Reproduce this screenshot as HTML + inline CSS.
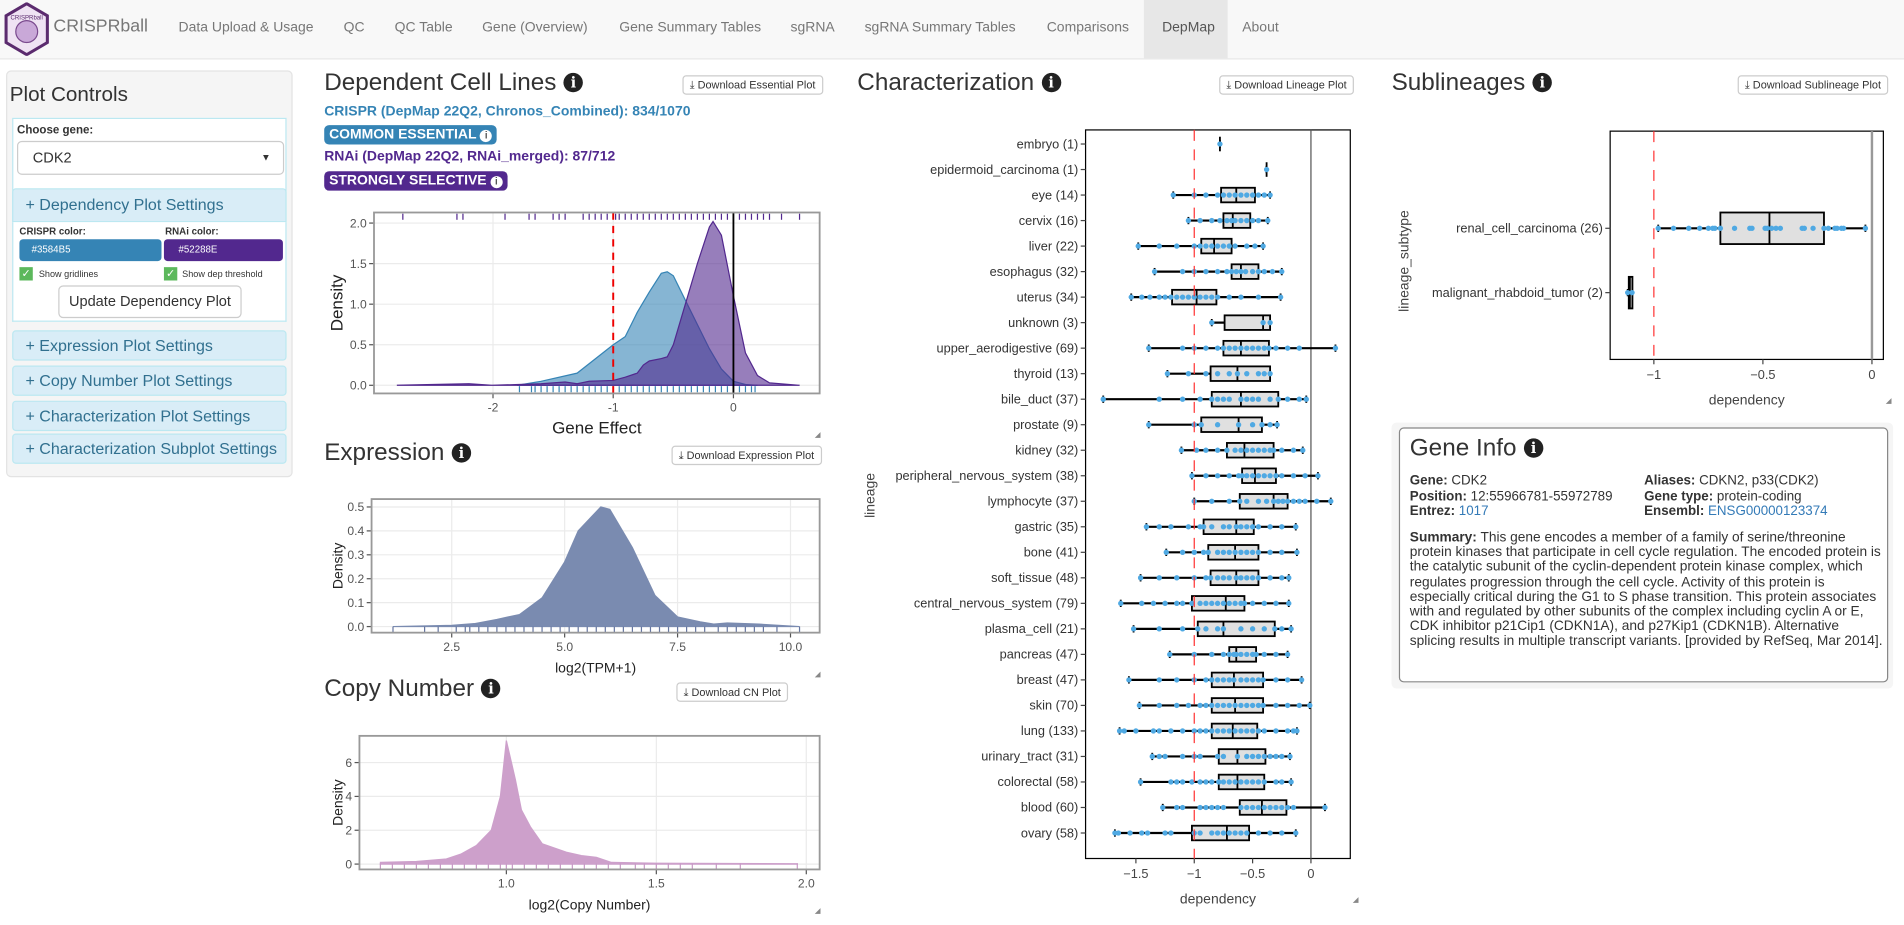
<!DOCTYPE html>
<html><head><meta charset="utf-8">
<style>
html,body{margin:0;padding:0;width:1904px;height:925px;overflow:hidden;background:#fff;font-family:"Liberation Sans",Arial,sans-serif;color:#333}
#root{position:absolute;left:0;top:0;width:1568px;height:762px;transform:scale(1.21429);transform-origin:0 0}
.abs{position:absolute}
.nav{left:0;top:0;width:1568px;height:48px;background:#f8f8f8;border-bottom:1px solid #e7e7e7}
.navi{position:absolute;top:17px;font-size:11.5px;color:#777;white-space:nowrap}
.h{font-size:20px;color:#333;white-space:nowrap}
.ic{display:inline-block;width:16px;height:16px;border-radius:50%;background:#222;color:#fff;font-size:12px;font-weight:bold;text-align:center;line-height:16px;font-family:"DejaVu Serif",serif;vertical-align:2px;margin-left:6px}
.btn{position:absolute;height:14px;border:1px solid #ccc;border-radius:3px;background:#fff;font-size:9px;line-height:14px;padding:0 5px;color:#333;white-space:nowrap;box-sizing:content-box}
.pnl{position:absolute;left:10px;width:226px;background:#d9edf7;border:1px solid #bce8f1;border-radius:3px;color:#31708f;font-size:13.2px;box-sizing:border-box;padding-left:10px;line-height:24px;white-space:nowrap;overflow:hidden}
.badge{position:absolute;color:#fff;font-weight:bold;font-size:11.5px;border-radius:4px;padding:0 4px;line-height:16px;white-space:nowrap}
.bi{display:inline-block;width:10px;height:10px;border-radius:50%;background:#fff;color:#555;font-size:8px;line-height:10px;text-align:center;vertical-align:0px;margin-left:3px}
svg text{font-family:"Liberation Sans",Arial,sans-serif}
</style></head><body>
<div id="root">
<div class="abs nav">
  <svg class="abs" style="left:3px;top:2px" width="38" height="44"><polygon points="19,1 36,11 36,33 19,43 2,33 2,11" fill="#efe3f3" stroke="#5b2b6e" stroke-width="2.5"/><circle cx="19" cy="24" r="9" fill="#c9a8d8" stroke="#7a4a8e"/><text x="19" y="14" font-size="5" text-anchor="middle" fill="#5b2b6e">CRISPRball</text></svg>
  <div class="navi" style="left:44px;top:14px;font-size:14.6px">CRISPRball</div>
  <div class="navi" style="left:147px">Data Upload &amp; Usage</div>
  <div class="navi" style="left:283px">QC</div>
  <div class="navi" style="left:325px">QC Table</div>
  <div class="navi" style="left:397px">Gene (Overview)</div>
  <div class="navi" style="left:510px">Gene Summary Tables</div>
  <div class="navi" style="left:651px">sgRNA</div>
  <div class="navi" style="left:712px">sgRNA Summary Tables</div>
  <div class="navi" style="left:862px">Comparisons</div>
  <div class="abs" style="left:942px;top:0;width:69px;height:48px;background:#e7e7e7"></div>
  <div class="navi" style="left:957px;color:#555">DepMap</div>
  <div class="navi" style="left:1023px">About</div>
</div>

<!-- sidebar -->
<div class="abs" style="left:5px;top:58px;width:236px;height:335px;background:#f5f5f5;border:1px solid #e3e3e3;border-radius:4px;box-sizing:border-box"></div>
<div class="abs" style="left:8px;top:68px;font-size:17px">Plot Controls</div>
<div class="abs" style="left:10px;top:97px;width:226px;height:89px;background:#fff;border:1px solid #bce8f1;box-sizing:border-box"></div>
<div class="abs" style="left:14px;top:102px;font-size:9.5px;font-weight:bold">Choose gene:</div>
<div class="abs" style="left:14px;top:116px;width:220px;height:28px;border:1px solid #ccc;border-radius:4px;background:#fff;box-sizing:border-box;font-size:12px;line-height:26px;padding-left:12px">CDK2<span style="position:absolute;right:10px;top:0;font-size:8px">&#9660;</span></div>
<div class="pnl" style="top:155px;height:28px;line-height:26px;border-radius:3px 3px 0 0">+ Dependency Plot Settings</div>
<div class="abs" style="left:10px;top:183px;width:226px;height:82px;background:#fff;border:1px solid #bce8f1;border-top:none;box-sizing:border-box"></div>
<div class="abs" style="left:16px;top:186px;font-size:8px;font-weight:bold">CRISPR color:</div>
<div class="abs" style="left:136px;top:186px;font-size:8px;font-weight:bold">RNAi color:</div>
<div class="abs" style="left:16px;top:197px;width:117px;height:18px;background:#3584B5;border-radius:3px;color:#fff;font-size:8px;line-height:18px;padding-left:10px;box-sizing:border-box">#3584B5</div>
<div class="abs" style="left:135px;top:197px;width:98px;height:18px;background:#52288E;border-radius:3px;color:#fff;font-size:8px;line-height:18px;padding-left:12px;box-sizing:border-box">#52288E</div>
<div class="abs" style="left:16px;top:220px;width:11px;height:11px;background:#5cb85c;color:#fff;font-size:9px;line-height:11px;text-align:center">&#10003;</div>
<div class="abs" style="left:32px;top:221px;font-size:7.5px">Show gridlines</div>
<div class="abs" style="left:135px;top:220px;width:11px;height:11px;background:#5cb85c;color:#fff;font-size:9px;line-height:11px;text-align:center">&#10003;</div>
<div class="abs" style="left:150px;top:221px;font-size:7.5px">Show dep threshold</div>
<div class="abs" style="left:48px;top:235px;width:151px;height:27px;border:1px solid #ccc;border-radius:4px;background:#fff;box-sizing:border-box;font-size:12px;line-height:25px;text-align:center">Update Dependency Plot</div>
<div class="pnl" style="top:272px;height:25px">+ Expression Plot Settings</div>
<div class="pnl" style="top:301px;height:25px">+ Copy Number Plot Settings</div>
<div class="pnl" style="top:330px;height:25px">+ Characterization Plot Settings</div>
<div class="pnl" style="top:357px;height:25px">+ Characterization Subplot Settings</div>

<!-- column 2 -->
<div class="abs h" style="left:267px;top:57px">Dependent Cell Lines<span class="ic">i</span></div>
<div class="btn" style="left:562px;top:62px">&#10515; Download Essential Plot</div>
<div class="abs" style="left:267px;top:86px;font-size:11.5px;font-weight:bold;color:#3584B5;white-space:nowrap">CRISPR (DepMap 22Q2, Chronos_Combined): 834/1070</div>
<div class="badge" style="left:267px;top:103px;background:#3584B5">COMMON ESSENTIAL<span class="bi">i</span></div>
<div class="abs" style="left:267px;top:123px;font-size:11.5px;font-weight:bold;color:#52288E;white-space:nowrap">RNAi (DepMap 22Q2, RNAi_merged): 87/712</div>
<div class="badge" style="left:267px;top:141px;background:#52288E">STRONGLY SELECTIVE<span class="bi">i</span></div>

<div class="abs h" style="left:267px;top:362px">Expression<span class="ic">i</span></div>
<div class="btn" style="left:553px;top:367px">&#10515; Download Expression Plot</div>
<div class="abs h" style="left:267px;top:556px">Copy Number<span class="ic">i</span></div>
<div class="btn" style="left:557px;top:562px">&#10515; Download CN Plot</div>

<!-- column 3 -->
<div class="abs h" style="left:706px;top:57px">Characterization<span class="ic">i</span></div>
<div class="btn" style="left:1004px;top:62px">&#10515; Download Lineage Plot</div>

<!-- column 4 -->
<div class="abs h" style="left:1146px;top:57px">Sublineages<span class="ic">i</span></div>
<div class="btn" style="left:1431px;top:62px">&#10515; Download Sublineage Plot</div>

<div class="abs" style="left:1146px;top:348px;width:413px;height:219px;background:#f5f5f5;border-radius:4px"></div>
<div class="abs" style="left:1152px;top:352px;width:403px;height:210px;background:#fff;border:1px solid #888;border-radius:4px;box-sizing:border-box">
  <div style="position:absolute;left:8px;top:5px;font-size:20px">Gene Info<span class="ic">i</span></div>
  <div style="position:absolute;left:8px;top:37px;font-size:11px;line-height:12.5px;white-space:nowrap"><b>Gene:</b> CDK2<br><b>Position:</b> 12:55966781-55972789<br><b>Entrez:</b> <span style="color:#337ab7">1017</span></div>
  <div style="position:absolute;left:201px;top:37px;font-size:11px;line-height:12.5px;white-space:nowrap"><b>Aliases:</b> CDKN2, p33(CDK2)<br><b>Gene type:</b> protein-coding<br><b>Ensembl:</b> <span style="color:#337ab7">ENSG00000123374</span></div>
  <div style="position:absolute;left:8px;top:84px;width:392px;font-size:11.3px;line-height:12.2px"><b>Summary:</b> This gene encodes a member of a family of serine/threonine protein kinases that participate in cell cycle regulation. The encoded protein is the catalytic subunit of the cyclin-dependent protein kinase complex, which regulates progression through the cell cycle. Activity of this protein is especially critical during the G1 to S phase transition. This protein associates with and regulated by other subunits of the complex including cyclin A or E, CDK inhibitor p21Cip1 (CDKN1A), and p27Kip1 (CDKN1B). Alternative splicing results in multiple transcript variants. [provided by RefSeq, Mar 2014].</div>
</div>

<svg id="charts" class="abs" style="left:0;top:0" width="1568" height="762"></svg>
</div>
<script>
// ---- dependency density data ----
const crisprX=[-1.8,-1.6,-1.3,-1.0,-0.9,-0.8,-0.7,-0.6,-0.55,-0.5,-0.4,-0.3,-0.2,-0.1,0,0.1,0.2];
const crisprY=[0.0,0.05,0.15,0.5,0.6,0.9,1.15,1.38,1.4,1.35,1.05,0.75,0.45,0.2,0.05,0.01,0.0];
const rnaiX=[-2.8,-2.2,-2.0,-1.6,-1.4,-1.3,-1.2,-1.0,-0.9,-0.8,-0.75,-0.7,-0.6,-0.55,-0.5,-0.4,-0.3,-0.2,-0.17,-0.1,0,0.1,0.2,0.3,0.55];
const rnaiY=[0,0.02,0.0,0.02,0.04,0.02,0.05,0.06,0.1,0.15,0.25,0.3,0.33,0.35,0.5,1.0,1.5,1.95,2.02,1.85,1.1,0.4,0.12,0.03,0.0];
const rnaiRug=[-2.75,-2.3,-2.25,-1.9,-1.7,-1.65,-1.5,-1.45,-1.4,-1.25,-1.2,-1.15,-1.1,-1.05,-0.98,-0.95,-0.9,-0.85,-0.8,-0.75,-0.7,-0.65,-0.6,-0.55,-0.5,-0.45,-0.4,-0.35,-0.3,-0.25,-0.2,-0.15,-0.1,-0.05,0,0.05,0.1,0.15,0.2,0.25,0.3,0.4,0.55];
const crisprRug=[-1.78,-1.68,-1.65,-1.6,-1.55,-1.5,-1.45,-1.4,-1.35,-1.3,-1.25,-1.2,-1.15,-1.1,-1.05,-1.0,-0.95,-0.9,-0.85,-0.8,-0.75,-0.7,-0.65,-0.6,-0.55,-0.5,-0.45,-0.4,-0.35,-0.3,-0.25,-0.2,-0.15,-0.1,-0.05,0,0.05,0.1,0.15,0.18];
const depXTicks=[-2,-1,0];
const depYTicks=[0,0.5,1,1.5,2];
// ---- expression data ----
const exprX=[1.2,2.5,3,3.5,4,4.5,5,5.3,5.6,5.8,6.0,6.5,7,7.5,8,8.3,8.6,9.3,10.2];
const exprY=[0.0,0.005,0.012,0.03,0.05,0.12,0.27,0.4,0.46,0.5,0.49,0.33,0.13,0.04,0.02,0.01,0.015,0.01,0.0];
const exprXTicks=[2.5,5.0,7.5,10.0];
const exprYTicks=[0,0.1,0.2,0.3,0.4,0.5];
const exprRug=[1.2,1.9,2.2,2.6,2.8,2.9,3.1,3.3,3.5,3.7,3.9,4.1,4.3,4.5,4.7,4.9,5.1,5.3,5.5,5.7,5.9,6.1,6.3,6.5,6.7,6.9,7.1,7.3,7.5,7.7,7.9,8.1,8.4,8.6,8.8,9.0,9.2,9.4,9.7,10.2];
// ---- copy number data ----
const cnX=[0.58,0.7,0.8,0.85,0.9,0.95,0.98,1.0,1.03,1.05,1.08,1.12,1.2,1.25,1.3,1.35,1.5,1.97];
const cnY=[0.1,0.15,0.3,0.6,1.1,2.0,4.0,7.3,5.0,3.2,2.2,1.2,0.7,0.5,0.4,0.1,0.05,0.02];
const cnXTicks=[1.0,1.5,2.0];
const cnYTicks=[0,2,4,6];
const cnRug=[0.58,0.62,0.66,0.7,0.74,0.78,0.82,0.86,0.9,0.94,0.98,1.0,1.02,1.06,1.1,1.14,1.18,1.22,1.26,1.3,1.34,1.38,1.43,1.46,1.5,1.54,1.58,1.62,1.7,1.78,1.97];
// ---- characterization data ----
const lineages=["embryo (1)","epidermoid_carcinoma (1)","eye (14)","cervix (16)","liver (22)","esophagus (32)","uterus (34)","unknown (3)","upper_aerodigestive (69)","thyroid (13)","bile_duct (37)","prostate (9)","kidney (32)","peripheral_nervous_system (38)","lymphocyte (37)","gastric (35)","bone (41)","soft_tissue (48)","central_nervous_system (79)","plasma_cell (21)","pancreas (47)","breast (47)","skin (70)","lung (133)","urinary_tract (31)","colorectal (58)","blood (60)","ovary (58)"];
const wLow=[-0.78,-0.38,-1.18,-1.05,-1.48,-1.34,-1.54,-0.85,-1.39,-1.23,-1.78,-1.39,-1.11,-1.02,-1.0,-1.41,-1.24,-1.46,-1.63,-1.52,-1.21,-1.56,-1.47,-1.64,-1.36,-1.46,-1.27,-1.68];
const q1=[-0.78,-0.38,-0.77,-0.75,-0.94,-0.68,-1.19,-0.74,-0.75,-0.86,-0.85,-0.94,-0.72,-0.59,-0.61,-0.92,-0.88,-0.86,-1.02,-0.97,-0.7,-0.85,-0.85,-0.85,-0.79,-0.79,-0.61,-1.02];
const med=[-0.78,-0.38,-0.64,-0.67,-0.83,-0.6,-0.98,-0.41,-0.6,-0.63,-0.6,-0.62,-0.57,-0.48,-0.32,-0.64,-0.65,-0.64,-0.73,-0.75,-0.64,-0.66,-0.65,-0.67,-0.63,-0.63,-0.42,-0.72];
const q3=[-0.78,-0.38,-0.48,-0.52,-0.68,-0.45,-0.81,-0.35,-0.36,-0.35,-0.28,-0.42,-0.32,-0.3,-0.2,-0.49,-0.45,-0.45,-0.57,-0.31,-0.47,-0.41,-0.41,-0.46,-0.39,-0.4,-0.21,-0.53];
const wHigh=[-0.78,-0.38,-0.35,-0.37,-0.41,-0.25,-0.26,-0.35,0.21,-0.35,-0.04,-0.29,-0.07,0.06,0.17,-0.13,-0.12,-0.19,-0.19,-0.17,-0.2,-0.08,-0.01,-0.12,-0.18,-0.17,0.12,-0.13];
const linPoints=[[-0.78],[-0.38],
[-1.18,-1.0,-0.9,-0.8,-0.75,-0.7,-0.65,-0.6,-0.55,-0.5,-0.45,-0.4,-0.35],
[-1.05,-0.95,-0.85,-0.78,-0.72,-0.68,-0.65,-0.6,-0.55,-0.5,-0.45,-0.37],
[-1.48,-1.3,-1.15,-1.0,-0.95,-0.9,-0.85,-0.8,-0.75,-0.7,-0.65,-0.55,-0.48,-0.41],
[-1.34,-1.1,-1.0,-0.9,-0.8,-0.72,-0.68,-0.64,-0.6,-0.56,-0.5,-0.45,-0.4,-0.33,-0.25],
[-1.54,-1.45,-1.38,-1.3,-1.25,-1.2,-1.15,-1.1,-1.05,-1.0,-0.95,-0.9,-0.85,-0.8,-0.7,-0.6,-0.45,-0.26],
[-0.85,-0.41,-0.35],
[-1.39,-1.1,-1.0,-0.9,-0.8,-0.75,-0.7,-0.65,-0.6,-0.55,-0.5,-0.45,-0.4,-0.36,-0.3,-0.2,-0.1,0.21],
[-1.23,-1.05,-0.9,-0.8,-0.7,-0.63,-0.55,-0.45,-0.4,-0.35],
[-1.78,-1.3,-1.1,-0.95,-0.85,-0.8,-0.75,-0.7,-0.6,-0.55,-0.5,-0.45,-0.35,-0.28,-0.2,-0.1,-0.04],
[-1.39,-1.0,-0.94,-0.8,-0.62,-0.5,-0.42,-0.35,-0.29],
[-1.11,-0.98,-0.9,-0.8,-0.72,-0.65,-0.6,-0.55,-0.5,-0.45,-0.4,-0.35,-0.32,-0.25,-0.15,-0.07],
[-1.02,-0.9,-0.8,-0.7,-0.62,-0.59,-0.55,-0.5,-0.45,-0.4,-0.35,-0.3,-0.25,-0.15,-0.05,0.06],
[-1.0,-0.85,-0.7,-0.61,-0.55,-0.45,-0.38,-0.32,-0.28,-0.24,-0.2,-0.15,-0.1,-0.05,0.05,0.17],
[-1.41,-1.3,-1.2,-1.05,-0.95,-0.92,-0.85,-0.75,-0.7,-0.64,-0.6,-0.55,-0.5,-0.45,-0.35,-0.25,-0.13],
[-1.24,-1.1,-1.0,-0.92,-0.88,-0.8,-0.75,-0.7,-0.65,-0.6,-0.55,-0.5,-0.45,-0.35,-0.25,-0.12],
[-1.46,-1.3,-1.15,-1.0,-0.9,-0.86,-0.8,-0.75,-0.7,-0.64,-0.6,-0.55,-0.5,-0.45,-0.35,-0.25,-0.19],
[-1.63,-1.45,-1.35,-1.25,-1.15,-1.1,-1.02,-0.95,-0.9,-0.85,-0.8,-0.75,-0.7,-0.65,-0.6,-0.57,-0.5,-0.4,-0.3,-0.19],
[-1.52,-1.3,-1.1,-0.97,-0.9,-0.8,-0.75,-0.6,-0.5,-0.4,-0.31,-0.25,-0.17],
[-1.21,-1.0,-0.85,-0.75,-0.7,-0.66,-0.64,-0.6,-0.55,-0.5,-0.47,-0.4,-0.3,-0.2],
[-1.56,-1.3,-1.15,-1.0,-0.9,-0.85,-0.8,-0.75,-0.7,-0.66,-0.6,-0.55,-0.5,-0.45,-0.41,-0.3,-0.2,-0.08],
[-1.47,-1.3,-1.15,-1.05,-0.95,-0.9,-0.85,-0.8,-0.75,-0.7,-0.65,-0.6,-0.55,-0.5,-0.45,-0.41,-0.3,-0.2,-0.1,-0.01],
[-1.64,-1.6,-1.5,-1.35,-1.3,-1.2,-1.1,-1.0,-0.95,-0.9,-0.85,-0.8,-0.75,-0.7,-0.65,-0.6,-0.55,-0.5,-0.45,-0.4,-0.3,-0.2,-0.15,-0.12],
[-1.36,-1.3,-1.25,-1.1,-1.0,-0.95,-0.8,-0.75,-0.63,-0.55,-0.5,-0.45,-0.4,-0.35,-0.3,-0.25,-0.18],
[-1.46,-1.2,-1.15,-1.1,-1.02,-0.95,-0.9,-0.85,-0.79,-0.75,-0.7,-0.65,-0.6,-0.55,-0.5,-0.45,-0.4,-0.3,-0.25,-0.17],
[-1.27,-1.15,-1.1,-0.95,-0.9,-0.85,-0.8,-0.75,-0.6,-0.55,-0.5,-0.45,-0.4,-0.35,-0.3,-0.25,-0.2,-0.15,0.12],
[-1.68,-1.65,-1.55,-1.45,-1.4,-1.25,-1.2,-1.0,-0.95,-0.85,-0.8,-0.75,-0.7,-0.65,-0.6,-0.55,-0.45,-0.35,-0.25,-0.13]];
const charXTicks=[-1.5,-1,-0.5,0];
const charXLabels=["\u22121.5","\u22121","\u22120.5","0"];
// ---- sublineage data ----
const subs=["renal_cell_carcinoma (26)","malignant_rhabdoid_tumor (2)"];
const subLow=[-0.98,-1.12];
const subQ1=[-0.695,-1.115];
const subMed=[-0.47,-1.11];
const subQ3=[-0.22,-1.105];
const subHigh=[-0.03,-1.1];
const subPoints=[[-0.98,-0.91,-0.84,-0.79,-0.75,-0.73,-0.72,-0.695,-0.63,-0.56,-0.55,-0.49,-0.48,-0.46,-0.44,-0.42,-0.32,-0.31,-0.27,-0.22,-0.2,-0.17,-0.16,-0.14,-0.13,-0.03],[-1.12,-1.1]];
const subXTicks=[-1,-0.5,0];
const subXLabels=["\u22121","\u22120.5","0"];

const NS="http://www.w3.org/2000/svg";
const svg=document.getElementById('charts');
function el(tag,attrs,parent){const e=document.createElementNS(NS,tag);for(const k in attrs)e.setAttribute(k,attrs[k]);(parent||svg).appendChild(e);return e;}
function txt(x,y,s,attrs,parent){const t=el('text',Object.assign({x:x,y:y},attrs||{}),parent);t.textContent=s;return t;}
function lin(d0,d1,r0,r1){return v=>r0+(v-d0)/(d1-d0)*(r1-r0);}

function densityPlot(o){
  const g=el('g',{});
  
  
  el('rect',{x:o.x0,y:o.y0,width:o.x1-o.x0,height:o.y1-o.y0,fill:'#fff'},g);
  o.yt.forEach(v=>{const y=o.sy(v);el('line',{x1:o.x0,x2:o.x1,y1:y,y2:y,stroke:'#ebebeb','stroke-width':1},g);
    el('line',{x1:o.x0-4,x2:o.x0,y1:y,y2:y,stroke:'#555'},g);
    txt(o.x0-6,y+3.5,o.yfmt(v),{'font-size':10,fill:'#555','text-anchor':'end'},g);});
  o.xt.forEach((v,i)=>{const x=o.sx(v);el('line',{x1:x,x2:x,y1:o.y0,y2:o.y1,stroke:'#ebebeb'},g);
    el('line',{x1:x,x2:x,y1:o.y1,y2:o.y1+4,stroke:'#555'},g);
    txt(x,o.y1+15,o.xlab[i],{'font-size':10,fill:'#555','text-anchor':'middle'},g);});
  o.series.forEach(s=>{
    let d='M'+o.sx(s.x[0])+','+o.sy(0);
    s.x.forEach((v,i)=>{d+=' L'+o.sx(v).toFixed(1)+','+o.sy(s.y[i]).toFixed(1);});
    d+=' L'+o.sx(s.x[s.x.length-1])+','+o.sy(0)+' Z';
    const p=el('path',{d:d,fill:s.fill,'fill-opacity':s.op,stroke:s.stroke,'stroke-width':1},g);
    
    
    s.rug.forEach(v=>{const x=o.sx(v);el('line',{x1:x,x2:x,y1:s.rugY,y2:s.rugY+5,stroke:s.rugC,'stroke-width':1},g);});
  });
  if(o.extra)o.extra(g);
  el('rect',{x:o.x0,y:o.y0,width:o.x1-o.x0,height:o.y1-o.y0,fill:'none',stroke:'#999','stroke-width':1.5},g);
  txt((o.x0+o.x1)/2,o.y1+33,o.xtitle,{'font-size':o.tfs,fill:'#222','text-anchor':'middle'},g);
  txt(0,0,'Density',{'font-size':o.tfs,fill:'#222','text-anchor':'middle',transform:'translate('+o.ytx+','+((o.y0+o.y1)/2)+') rotate(-90)'},g);
  txt(o.x1-4,o.y1+36,'\u25E2',{'font-size':6,fill:'#888'},g);
}
// dependency
(function(){
  const sx=lin(0,1,604,703), sy=lin(0,1,317.3,250.5);
  densityPlot({name:'dependency-density-plot',x0:308,x1:675,y0:175,y1:324,sx:sx,sy:sy,yt:depYTicks,xt:depXTicks,xlab:['-2','-1','0'],yfmt:v=>v.toFixed(1),xtitle:'Gene Effect',tfs:14,ytx:282,
    series:[{name:'crispr-density',x:crisprX,y:crisprY,fill:'#3584B5',op:0.6,stroke:'#3584B5',rug:crisprRug,rugY:318,rugC:'#3584B5'},
            {name:'rnai-density',x:rnaiX,y:rnaiY,fill:'#52288E',op:0.6,stroke:'#52288E',rug:rnaiRug,rugY:176,rugC:'#52288E'}],
    extra:g=>{el('line',{x1:sx(-1),x2:sx(-1),y1:175,y2:324,stroke:'#e00','stroke-width':1.6,'stroke-dasharray':'6,5'},g);
              el('line',{x1:sx(0),x2:sx(0),y1:175,y2:324,stroke:'#000','stroke-width':1.5},g);}});
})();
// expression
(function(){
  const sx=lin(0,1,279,316.2), sy=lin(0,1,516,319);
  densityPlot({name:'expression-density-plot',x0:306,x1:675,y0:411,y1:521,sx:sx,sy:sy,yt:exprYTicks,xt:exprXTicks,xlab:['2.5','5.0','7.5','10.0'],yfmt:v=>v.toFixed(1),xtitle:'log2(TPM+1)',tfs:11.5,ytx:282,
    series:[{name:'expression-density',x:exprX,y:exprY,fill:'#7A8BB0',op:1,stroke:'#7A8BB0',rug:exprRug,rugY:516,rugC:'#6676a0'}]});
})();
// copy number
(function(){
  const sx=lin(1,1.5,417,540.5), sy=lin(0,6,711.6,628);
  densityPlot({name:'copy-number-density-plot',x0:296,x1:675,y0:606,y1:716,sx:sx,sy:sy,yt:cnYTicks,xt:cnXTicks,xlab:['1.0','1.5','2.0'],yfmt:v=>String(v),xtitle:'log2(Copy Number)',tfs:11.5,ytx:282,
    series:[{name:'copy-number-density',x:cnX,y:cnY,fill:'#CDA0CB',op:1,stroke:'#CDA0CB',rug:cnRug,rugY:711,rugC:'#c89ac6'}]});
})();

function boxPlot(o){
  const g=el('g',{});
  
  
  el('rect',{x:o.x0,y:o.y0,width:o.x1-o.x0,height:o.y1-o.y0,fill:'#fff',stroke:'#000','stroke-width':1},g);
  el('line',{x1:o.sx(0),x2:o.sx(0),y1:o.y0,y2:o.y1,stroke:o.zeroC,'stroke-width':o.zeroW},g);
  o.cats.forEach((c,i)=>{const y=o.sy(i);
    el('line',{x1:o.x0-4,x2:o.x0,y1:y,y2:y,stroke:'#444'},g);
    const t=txt(o.x0-6,y+3.5,c,{'font-size':o.fs,fill:'#333','text-anchor':'end'},g);
    
    
    const bh=o.bh;
    el('line',{x1:o.sx(o.lo[i]),x2:o.sx(o.hi[i]),y1:y,y2:y,stroke:'#000','stroke-width':1.8},g);
    [o.lo[i],o.hi[i]].forEach(v=>el('line',{x1:o.sx(v),x2:o.sx(v),y1:y-3,y2:y+3,stroke:'#000','stroke-width':1.5},g));
    const b=el('rect',{x:o.sx(o.q1[i]),y:y-bh/2,width:Math.max(o.sx(o.q3[i])-o.sx(o.q1[i]),o.minW),height:bh,fill:o.boxFill,stroke:'#000','stroke-width':1.5},g);
    
    
    el('line',{x1:o.sx(o.md[i]),x2:o.sx(o.md[i]),y1:y-bh/2,y2:y+bh/2,stroke:'#000','stroke-width':1.5},g);
    o.pts[i].forEach(v=>{const c=el('circle',{cx:o.sx(v),cy:y,r:2.2,fill:'#4FA9E3'},g);
      
      });
  });
  el('line',{x1:o.sx(-1),x2:o.sx(-1),y1:o.y0,y2:o.y1,stroke:'#f33','stroke-width':1,'stroke-dasharray':'9,7'},g);
  o.xt.forEach((v,i)=>{const x=o.sx(v);el('line',{x1:x,x2:x,y1:o.y1,y2:o.y1+4,stroke:'#444'},g);
    txt(x,o.y1+16,o.xl[i],{'font-size':10.5,fill:'#444','text-anchor':'middle'},g);});
  txt((o.x0+o.x1)/2,o.y1+37,'dependency',{'font-size':11.5,fill:'#444','text-anchor':'middle'},g);
  txt(0,0,o.ytitle,{'font-size':11.5,fill:'#444','text-anchor':'middle',transform:'translate('+o.ytx+','+o.yty+') rotate(-90)'},g);
  txt(o.x1+2,o.y1+36,'\u25E2',{'font-size':6,fill:'#888'},g);
}
boxPlot({name:'characterization-boxplot',x0:894,x1:1112,y0:107,y1:707,sx:lin(0,1,1079.6,1175.7),sy:i=>118.6+i*(686-118.6)/27,
  cats:lineages,lo:wLow,q1:q1,md:med,q3:q3,hi:wHigh,pts:linPoints,bh:12,minW:0,boxFill:'#e0e0e0',fs:10.5,
  zeroC:'#555',zeroW:1,xt:charXTicks,xl:charXLabels,ytitle:'lineage',ytx:720,yty:408});
boxPlot({name:'sublineage-boxplot',x0:1326,x1:1551,y0:108,y1:296,sx:lin(0,1,1541.6,1721.2),sy:i=>188+i*53,
  cats:subs,lo:subLow,q1:subQ1,md:subMed,q3:subQ3,hi:subHigh,pts:subPoints,bh:26,minW:3,boxFill:'#e0e0e0',fs:10.5,
  zeroC:'#999',zeroW:2,xt:subXTicks,xl:subXLabels,ytitle:'lineage_subtype',ytx:1160,yty:215});
</script>
</body></html>
